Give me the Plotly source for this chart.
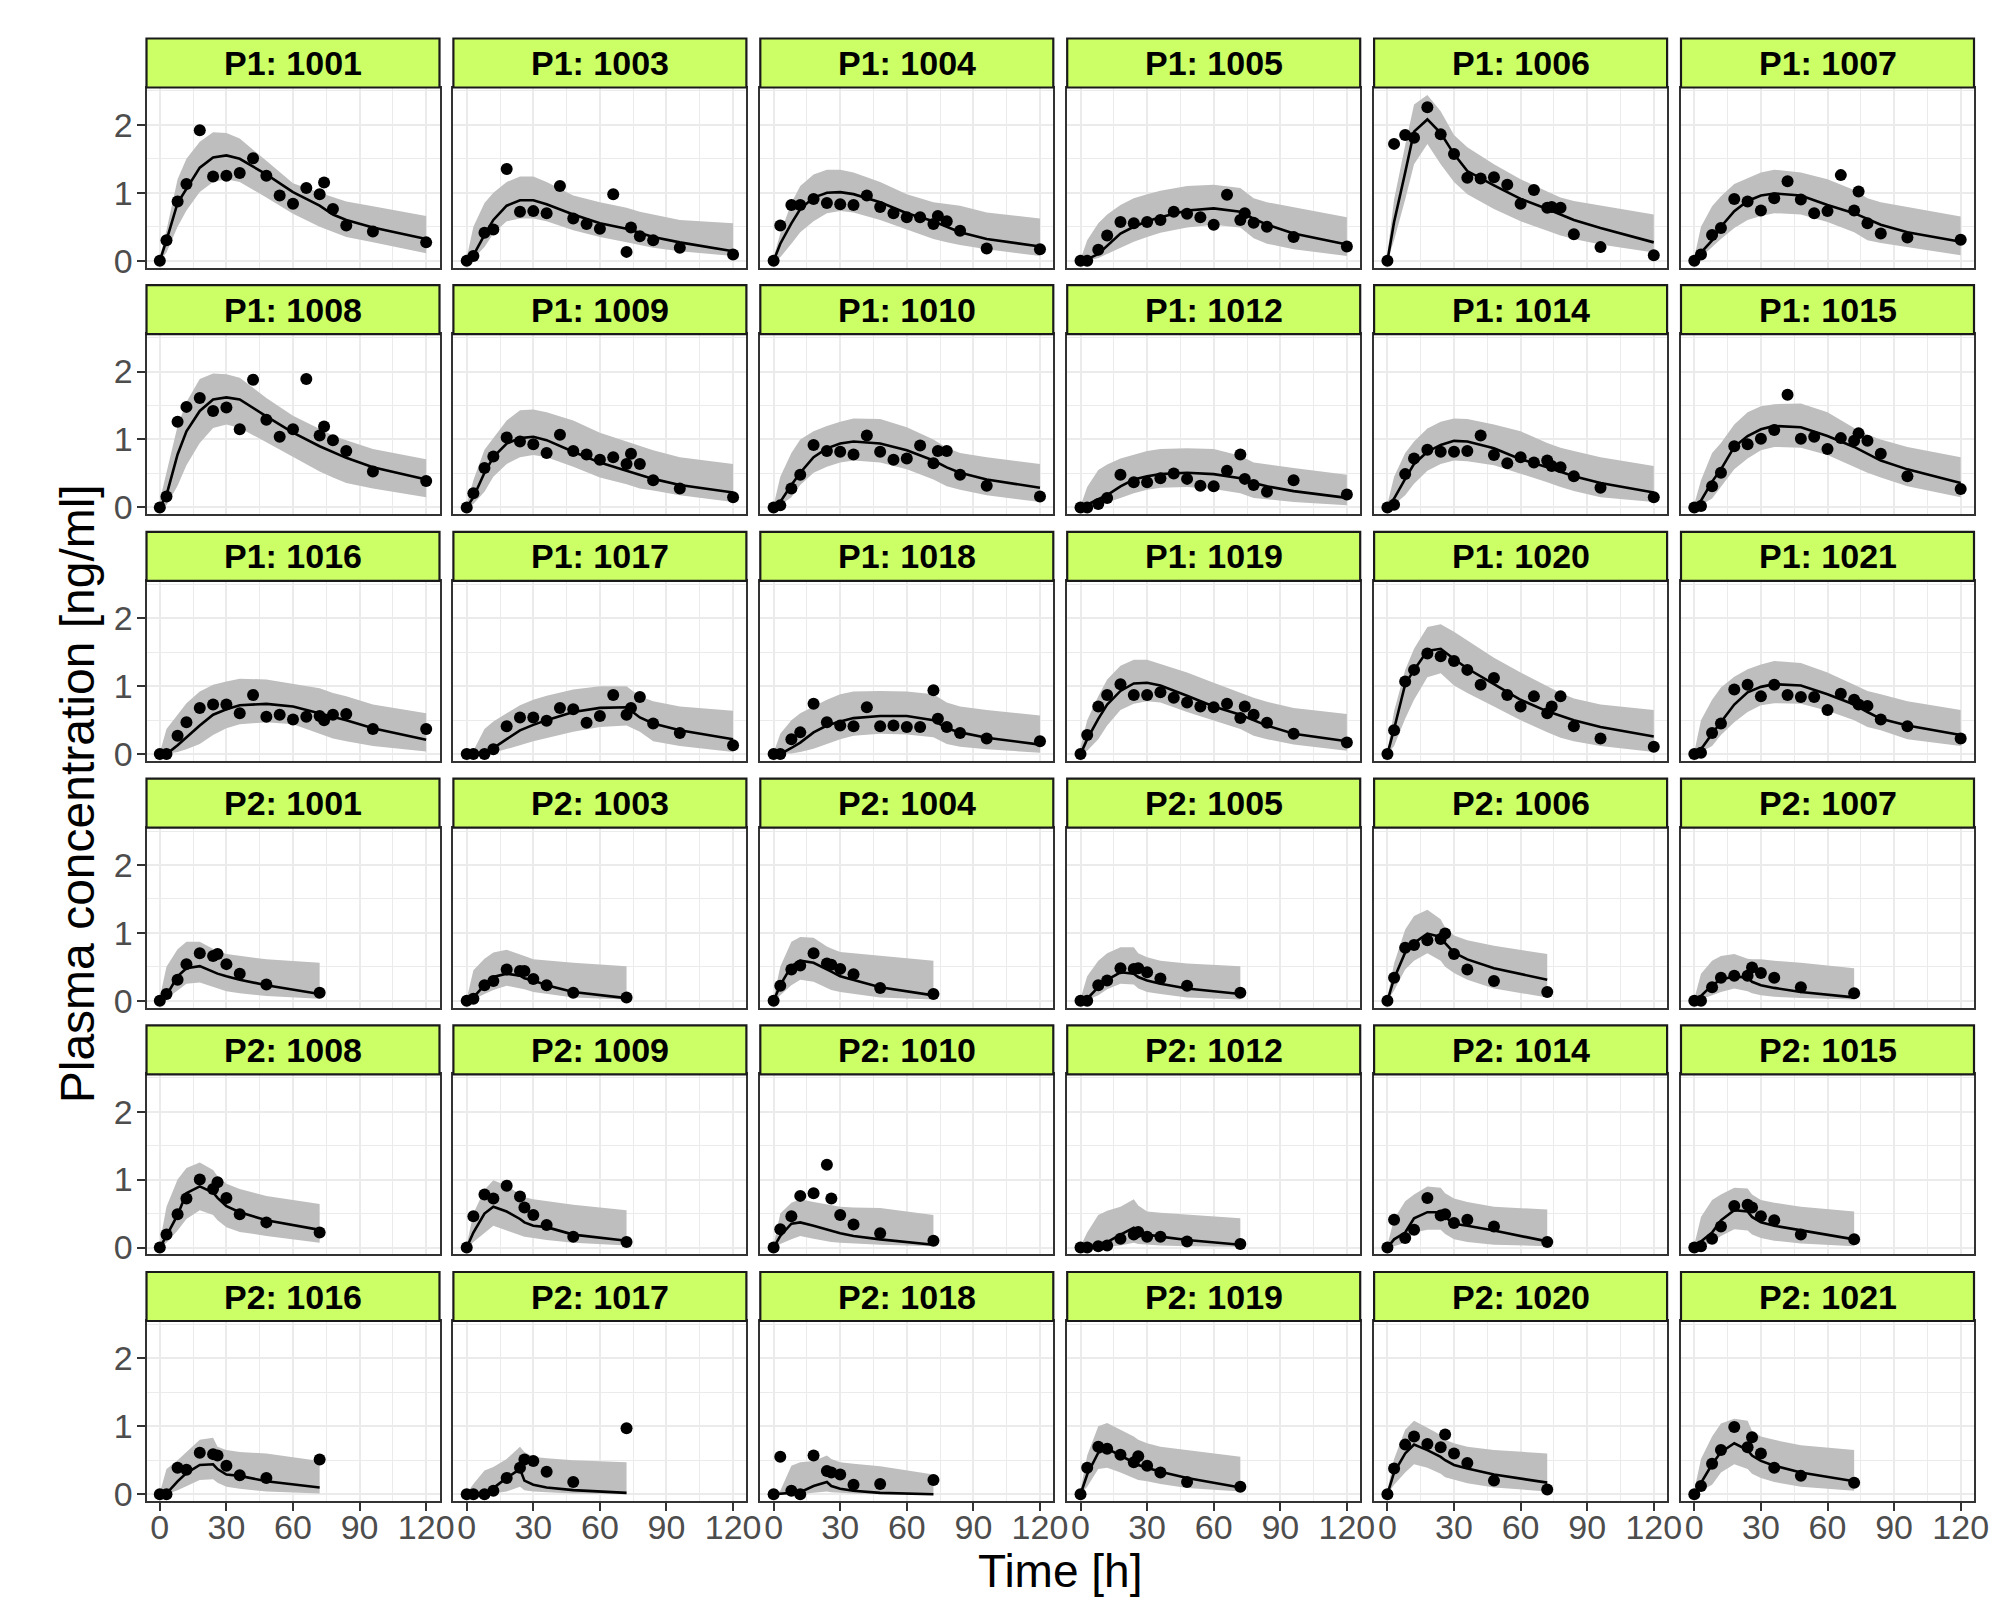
import plotly.graph_objects as go

# ---- sampling / prediction times -------------------------------------------
P1_OBS_TIMES = [0, 3, 8, 12, 18, 24, 30, 36, 42, 48, 54, 60, 66, 72, 74, 78, 84, 96, 120]
P1_PRED_TIMES = [0, 3, 8, 12, 18, 24, 30, 36, 48, 60, 72, 78, 84, 96, 120]
P2_TIMES = [0, 3, 8, 12, 18, 24, 26, 30, 36, 48, 72]

SUBJECTS = [1001, 1003, 1004, 1005, 1006, 1007, 1008, 1009, 1010,
            1012, 1014, 1015, 1016, 1017, 1018, 1019, 1020, 1021]
PERIODS = ["P1", "P2"]

X_TICKS = [0, 30, 60, 90, 120]
Y_TICKS = [0, 1, 2]

# ---- observed concentrations [ng/ml] ---------------------------------------
OBSERVED = {
    "P1: 1001": [0, 0.30, 0.87, 1.13, 1.92, 1.24, 1.25, 1.29, 1.51, 1.25, 0.96, 0.84, 1.07, 0.98, 1.15, 0.76, 0.52, 0.43, 0.27],
    "P1: 1003": [0, 0.07, 0.41, 0.46, 1.35, 0.72, 0.73, 0.70, 1.10, 0.62, 0.54, 0.47, 0.98, 0.13, 0.49, 0.36, 0.30, 0.19, 0.09],
    "P1: 1004": [0, 0.52, 0.82, 0.82, 0.91, 0.85, 0.83, 0.82, 0.96, 0.79, 0.70, 0.64, 0.64, 0.54, 0.66, 0.58, 0.44, 0.18, 0.17],
    "P1: 1005": [0, 0, 0.16, 0.37, 0.57, 0.55, 0.57, 0.60, 0.72, 0.69, 0.64, 0.53, 0.97, 0.60, 0.70, 0.56, 0.50, 0.35, 0.21],
    "P1: 1006": [0, 1.72, 1.85, 1.81, 2.26, 1.86, 1.57, 1.22, 1.21, 1.23, 1.12, 0.84, 1.04, 0.78, 0.79, 0.78, 0.39, 0.20, 0.08],
    "P1: 1007": [0, 0.09, 0.38, 0.48, 0.91, 0.87, 0.74, 0.92, 1.17, 0.90, 0.70, 0.73, 1.26, 0.74, 1.02, 0.55, 0.40, 0.34, 0.31],
    "P1: 1008": [0, 0.16, 1.26, 1.48, 1.61, 1.42, 1.47, 1.15, 1.88, 1.29, 1.04, 1.15, 1.89, 1.06, 1.19, 0.99, 0.83, 0.53, 0.39],
    "P1: 1009": [0, 0.21, 0.58, 0.75, 1.03, 0.97, 0.93, 0.80, 1.07, 0.83, 0.78, 0.70, 0.74, 0.64, 0.79, 0.64, 0.40, 0.28, 0.15],
    "P1: 1010": [0, 0.03, 0.28, 0.48, 0.92, 0.83, 0.82, 0.78, 1.06, 0.82, 0.70, 0.72, 0.91, 0.65, 0.83, 0.83, 0.48, 0.32, 0.16],
    "P1: 1012": [0, 0, 0.05, 0.14, 0.48, 0.37, 0.37, 0.43, 0.50, 0.42, 0.32, 0.31, 0.54, 0.78, 0.42, 0.33, 0.23, 0.40, 0.19],
    "P1: 1014": [0, 0.04, 0.49, 0.72, 0.85, 0.82, 0.82, 0.83, 1.06, 0.77, 0.65, 0.74, 0.66, 0.69, 0.61, 0.59, 0.46, 0.29, 0.15],
    "P1: 1015": [0, 0.02, 0.31, 0.51, 0.90, 0.93, 1.01, 1.14, 1.66, 1.01, 1.04, 0.86, 1.02, 0.98, 1.09, 0.98, 0.79, 0.46, 0.27],
    "P1: 1016": [0, 0, 0.27, 0.47, 0.68, 0.73, 0.73, 0.60, 0.87, 0.55, 0.58, 0.51, 0.55, 0.56, 0.50, 0.58, 0.59, 0.37, 0.37],
    "P1: 1017": [0, 0, 0, 0.07, 0.41, 0.54, 0.54, 0.49, 0.68, 0.66, 0.46, 0.56, 0.87, 0.58, 0.68, 0.84, 0.45, 0.31, 0.13],
    "P1: 1018": [0, 0, 0.22, 0.32, 0.74, 0.47, 0.42, 0.41, 0.69, 0.41, 0.42, 0.40, 0.40, 0.94, 0.52, 0.40, 0.31, 0.23, 0.19],
    "P1: 1019": [0, 0.28, 0.70, 0.87, 1.03, 0.87, 0.87, 0.91, 0.83, 0.76, 0.70, 0.69, 0.74, 0.53, 0.70, 0.58, 0.46, 0.30, 0.17],
    "P1: 1020": [0, 0.35, 1.07, 1.24, 1.48, 1.44, 1.37, 1.24, 1.02, 1.12, 0.87, 0.70, 0.85, 0.60, 0.70, 0.85, 0.41, 0.23, 0.11],
    "P1: 1021": [0, 0.02, 0.31, 0.45, 0.95, 1.02, 0.85, 1.02, 0.87, 0.84, 0.84, 0.65, 0.89, 0.80, 0.73, 0.71, 0.51, 0.41, 0.23],
    "P2: 1001": [0, 0.10, 0.31, 0.54, 0.70, 0.66, 0.69, 0.54, 0.40, 0.24, 0.12],
    "P2: 1003": [0, 0.03, 0.23, 0.29, 0.46, 0.44, 0.44, 0.32, 0.23, 0.12, 0.05],
    "P2: 1004": [0, 0.22, 0.46, 0.52, 0.70, 0.55, 0.53, 0.47, 0.39, 0.19, 0.10],
    "P2: 1005": [0, 0, 0.23, 0.30, 0.48, 0.47, 0.48, 0.42, 0.33, 0.22, 0.12],
    "P2: 1006": [0, 0.34, 0.78, 0.82, 0.89, 0.91, 0.99, 0.69, 0.46, 0.29, 0.13],
    "P2: 1007": [0, 0, 0.20, 0.34, 0.37, 0.37, 0.49, 0.41, 0.34, 0.20, 0.11],
    "P2: 1008": [0, 0.19, 0.49, 0.72, 1.00, 0.86, 0.96, 0.73, 0.49, 0.37, 0.22],
    "P2: 1009": [0, 0.46, 0.78, 0.72, 0.91, 0.75, 0.59, 0.48, 0.33, 0.16, 0.08],
    "P2: 1010": [0, 0.27, 0.46, 0.76, 0.80, 1.22, 0.72, 0.48, 0.34, 0.21, 0.10],
    "P2: 1012": [0, 0, 0.02, 0.03, 0.13, 0.19, 0.23, 0.16, 0.16, 0.09, 0.05],
    "P2: 1014": [0, 0.41, 0.14, 0.26, 0.73, 0.47, 0.49, 0.36, 0.41, 0.31, 0.08],
    "P2: 1015": [0, 0.02, 0.13, 0.31, 0.61, 0.63, 0.59, 0.46, 0.40, 0.19, 0.12],
    "P2: 1016": [0, 0, 0.39, 0.36, 0.61, 0.59, 0.57, 0.42, 0.28, 0.24, 0.51],
    "P2: 1017": [0, 0, 0, 0.05, 0.24, 0.39, 0.51, 0.49, 0.33, 0.18, 0.97],
    "P2: 1018": [0, 0.55, 0.05, 0, 0.57, 0.34, 0.32, 0.29, 0.14, 0.15, 0.21],
    "P2: 1019": [0, 0.39, 0.70, 0.67, 0.58, 0.47, 0.56, 0.42, 0.32, 0.18, 0.11],
    "P2: 1020": [0, 0.38, 0.73, 0.85, 0.74, 0.69, 0.88, 0.60, 0.46, 0.20, 0.07],
    "P2: 1021": [0, 0.12, 0.45, 0.65, 0.99, 0.69, 0.84, 0.60, 0.39, 0.27, 0.17],
}

# ---- model prediction: median ----------------------------------------------
MEDIAN = {
    "P1: 1001": [0, 0.30, 0.85, 1.05, 1.37, 1.52, 1.55, 1.50, 1.27, 1.01, 0.81, 0.68, 0.60, 0.49, 0.32],
    "P1: 1003": [0, 0.08, 0.38, 0.60, 0.81, 0.89, 0.89, 0.83, 0.68, 0.55, 0.47, 0.41, 0.35, 0.27, 0.14],
    "P1: 1004": [0, 0.25, 0.55, 0.76, 0.93, 1.00, 1.01, 0.98, 0.86, 0.70, 0.58, 0.50, 0.42, 0.32, 0.21],
    "P1: 1005": [0, 0.02, 0.10, 0.22, 0.40, 0.50, 0.58, 0.64, 0.74, 0.77, 0.72, 0.62, 0.53, 0.40, 0.24],
    "P1: 1006": [0, 0.57, 1.30, 1.90, 2.08, 1.88, 1.57, 1.32, 1.11, 0.91, 0.76, 0.68, 0.60, 0.48, 0.27],
    "P1: 1007": [0, 0.12, 0.30, 0.50, 0.73, 0.88, 0.96, 0.99, 0.96, 0.82, 0.70, 0.61, 0.53, 0.42, 0.28],
    "P1: 1008": [0, 0.18, 0.78, 1.12, 1.42, 1.59, 1.62, 1.59, 1.34, 1.10, 0.90, 0.81, 0.73, 0.59, 0.41],
    "P1: 1009": [0, 0.15, 0.51, 0.74, 0.94, 1.02, 1.04, 0.99, 0.82, 0.66, 0.54, 0.48, 0.42, 0.33, 0.22],
    "P1: 1010": [0, 0.08, 0.33, 0.51, 0.74, 0.87, 0.94, 0.97, 0.94, 0.84, 0.69, 0.59, 0.51, 0.41, 0.29],
    "P1: 1012": [0, 0.04, 0.12, 0.18, 0.31, 0.41, 0.46, 0.49, 0.51, 0.49, 0.43, 0.36, 0.31, 0.24, 0.14],
    "P1: 1014": [0, 0.13, 0.42, 0.64, 0.82, 0.92, 0.98, 0.97, 0.87, 0.71, 0.59, 0.52, 0.46, 0.36, 0.22],
    "P1: 1015": [0, 0.10, 0.38, 0.56, 0.89, 1.05, 1.15, 1.20, 1.18, 1.05, 0.89, 0.79, 0.69, 0.56, 0.36],
    "P1: 1016": [0, 0, 0.13, 0.25, 0.42, 0.58, 0.66, 0.72, 0.74, 0.70, 0.60, 0.55, 0.50, 0.38, 0.21],
    "P1: 1017": [0, 0, 0.03, 0.09, 0.22, 0.35, 0.43, 0.50, 0.62, 0.68, 0.69, 0.54, 0.45, 0.35, 0.22],
    "P1: 1018": [0, 0, 0.09, 0.17, 0.32, 0.42, 0.48, 0.53, 0.56, 0.56, 0.50, 0.38, 0.32, 0.24, 0.14],
    "P1: 1019": [0, 0.22, 0.52, 0.73, 0.93, 1.04, 1.05, 1.01, 0.86, 0.70, 0.58, 0.50, 0.42, 0.30, 0.19],
    "P1: 1020": [0, 0.37, 1.03, 1.24, 1.52, 1.55, 1.40, 1.26, 1.03, 0.80, 0.63, 0.56, 0.50, 0.40, 0.26],
    "P1: 1021": [0, 0.07, 0.30, 0.47, 0.73, 0.91, 0.99, 1.03, 1.01, 0.88, 0.73, 0.62, 0.52, 0.42, 0.28],
    "P2: 1001": [0, 0.08, 0.36, 0.48, 0.51, 0.43, 0.40, 0.36, 0.31, 0.23, 0.10],
    "P2: 1003": [0, 0.05, 0.23, 0.35, 0.40, 0.37, 0.33, 0.30, 0.23, 0.13, 0.04],
    "P2: 1004": [0, 0.23, 0.51, 0.59, 0.56, 0.47, 0.43, 0.36, 0.31, 0.20, 0.08],
    "P2: 1005": [0, 0.03, 0.20, 0.31, 0.42, 0.40, 0.35, 0.30, 0.25, 0.18, 0.10],
    "P2: 1006": [0, 0.33, 0.71, 0.85, 0.99, 0.94, 0.85, 0.71, 0.61, 0.48, 0.31],
    "P2: 1007": [0, 0.07, 0.23, 0.31, 0.36, 0.34, 0.28, 0.23, 0.19, 0.13, 0.05],
    "P2: 1008": [0, 0.17, 0.48, 0.80, 0.90, 0.81, 0.73, 0.61, 0.52, 0.40, 0.26],
    "P2: 1009": [0, 0.22, 0.50, 0.60, 0.53, 0.42, 0.37, 0.32, 0.30, 0.19, 0.10],
    "P2: 1010": [0, 0.17, 0.35, 0.37, 0.32, 0.26, 0.24, 0.21, 0.17, 0.12, 0.04],
    "P2: 1012": [0, 0.01, 0.04, 0.08, 0.19, 0.29, 0.25, 0.19, 0.16, 0.11, 0.04],
    "P2: 1014": [0, 0.12, 0.22, 0.43, 0.52, 0.52, 0.45, 0.35, 0.32, 0.25, 0.09],
    "P2: 1015": [0, 0.09, 0.22, 0.40, 0.55, 0.53, 0.45, 0.37, 0.32, 0.25, 0.12],
    "P2: 1016": [0, 0.01, 0.19, 0.31, 0.43, 0.44, 0.37, 0.29, 0.27, 0.19, 0.10],
    "P2: 1017": [0, 0, 0.01, 0.09, 0.24, 0.37, 0.20, 0.14, 0.10, 0.06, 0.02],
    "P2: 1018": [0, 0.01, 0.02, 0.03, 0.12, 0.18, 0.12, 0.08, 0.05, 0.02, 0],
    "P2: 1019": [0, 0.29, 0.61, 0.67, 0.57, 0.47, 0.43, 0.39, 0.33, 0.24, 0.10],
    "P2: 1020": [0, 0.32, 0.60, 0.73, 0.65, 0.55, 0.50, 0.43, 0.38, 0.29, 0.17],
    "P2: 1021": [0, 0.16, 0.44, 0.62, 0.75, 0.65, 0.57, 0.49, 0.42, 0.32, 0.19],
}

# ---- model prediction: lower bound of the interval -------------------------
LOWER = {
    "P1: 1001": [0, 0.12, 0.50, 0.74, 1.01, 1.16, 1.20, 1.16, 0.93, 0.69, 0.50, 0.42, 0.35, 0.27, 0.11],
    "P1: 1003": [0, 0.03, 0.20, 0.40, 0.58, 0.62, 0.62, 0.58, 0.45, 0.35, 0.27, 0.23, 0.19, 0.14, 0.07],
    "P1: 1004": [0, 0.05, 0.25, 0.42, 0.58, 0.70, 0.73, 0.71, 0.60, 0.46, 0.32, 0.27, 0.23, 0.17, 0.07],
    "P1: 1005": [0, 0, 0.04, 0.10, 0.20, 0.28, 0.35, 0.41, 0.49, 0.53, 0.49, 0.33, 0.25, 0.17, 0.07],
    "P1: 1006": [0, 0.30, 0.90, 1.42, 1.72, 1.42, 1.16, 0.98, 0.76, 0.58, 0.44, 0.37, 0.32, 0.24, 0.12],
    "P1: 1007": [0, 0.05, 0.20, 0.32, 0.48, 0.60, 0.66, 0.70, 0.68, 0.57, 0.42, 0.30, 0.26, 0.20, 0.08],
    "P1: 1008": [0, 0.03, 0.32, 0.62, 0.95, 1.17, 1.22, 1.17, 0.96, 0.74, 0.53, 0.44, 0.36, 0.28, 0.15],
    "P1: 1009": [0, 0.05, 0.23, 0.45, 0.64, 0.74, 0.77, 0.74, 0.60, 0.44, 0.34, 0.28, 0.25, 0.18, 0.08],
    "P1: 1010": [0, 0.03, 0.15, 0.33, 0.51, 0.60, 0.66, 0.69, 0.66, 0.56, 0.41, 0.31, 0.26, 0.18, 0.08],
    "P1: 1012": [0, 0, 0.03, 0.07, 0.14, 0.21, 0.26, 0.29, 0.30, 0.27, 0.21, 0.14, 0.12, 0.08, 0.03],
    "P1: 1014": [0, 0.04, 0.18, 0.35, 0.54, 0.64, 0.69, 0.68, 0.62, 0.50, 0.37, 0.30, 0.24, 0.15, 0.08],
    "P1: 1015": [0, 0.03, 0.13, 0.30, 0.56, 0.72, 0.84, 0.89, 0.88, 0.77, 0.60, 0.51, 0.44, 0.31, 0.15],
    "P1: 1016": [0, 0, 0.03, 0.07, 0.15, 0.28, 0.38, 0.44, 0.47, 0.44, 0.30, 0.23, 0.19, 0.12, 0.04],
    "P1: 1017": [0, 0, 0, 0.02, 0.07, 0.13, 0.19, 0.24, 0.33, 0.40, 0.42, 0.33, 0.19, 0.12, 0.03],
    "P1: 1018": [0, 0, 0.01, 0.03, 0.08, 0.15, 0.22, 0.27, 0.30, 0.29, 0.25, 0.15, 0.11, 0.07, 0.02],
    "P1: 1019": [0, 0.05, 0.22, 0.42, 0.65, 0.74, 0.78, 0.76, 0.62, 0.49, 0.37, 0.27, 0.22, 0.14, 0.05],
    "P1: 1020": [0, 0.12, 0.52, 0.80, 1.13, 1.19, 1.01, 0.90, 0.70, 0.50, 0.32, 0.24, 0.19, 0.12, 0.03],
    "P1: 1021": [0, 0.03, 0.12, 0.28, 0.47, 0.62, 0.72, 0.75, 0.74, 0.64, 0.50, 0.40, 0.35, 0.22, 0.12],
    "P2: 1001": [0, 0.03, 0.15, 0.25, 0.27, 0.21, 0.18, 0.14, 0.11, 0.07, 0.03],
    "P2: 1003": [0, 0.02, 0.10, 0.16, 0.22, 0.19, 0.17, 0.13, 0.10, 0.05, 0.02],
    "P2: 1004": [0, 0.08, 0.23, 0.31, 0.28, 0.19, 0.16, 0.13, 0.10, 0.05, 0.02],
    "P2: 1005": [0, 0.01, 0.08, 0.17, 0.25, 0.24, 0.18, 0.13, 0.10, 0.05, 0.02],
    "P2: 1006": [0, 0.15, 0.46, 0.59, 0.70, 0.59, 0.50, 0.41, 0.31, 0.18, 0.05],
    "P2: 1007": [0, 0.02, 0.08, 0.13, 0.18, 0.14, 0.11, 0.08, 0.06, 0.04, 0.02],
    "P2: 1008": [0, 0.07, 0.25, 0.42, 0.55, 0.48, 0.40, 0.30, 0.23, 0.17, 0.07],
    "P2: 1009": [0, 0.08, 0.22, 0.32, 0.25, 0.18, 0.16, 0.14, 0.11, 0.07, 0.03],
    "P2: 1010": [0, 0.05, 0.12, 0.17, 0.13, 0.09, 0.08, 0.07, 0.06, 0.04, 0.02],
    "P2: 1012": [0, 0, 0, 0.01, 0.03, 0.07, 0.05, 0.04, 0.03, 0.02, 0.01],
    "P2: 1014": [0, 0.02, 0.07, 0.22, 0.26, 0.26, 0.20, 0.12, 0.08, 0.04, 0.02],
    "P2: 1015": [0, 0.02, 0.07, 0.17, 0.27, 0.25, 0.19, 0.14, 0.10, 0.06, 0.02],
    "P2: 1016": [0, 0, 0.06, 0.12, 0.21, 0.22, 0.17, 0.11, 0.08, 0.04, 0.01],
    "P2: 1017": [0, 0, 0, 0.01, 0.04, 0.11, 0.06, 0.04, 0.03, 0.01, 0],
    "P2: 1018": [0, 0, 0, 0, 0.02, 0.04, 0.03, 0.02, 0.01, 0, 0],
    "P2: 1019": [0, 0.11, 0.37, 0.39, 0.32, 0.24, 0.21, 0.19, 0.15, 0.09, 0.04],
    "P2: 1020": [0, 0.14, 0.32, 0.44, 0.39, 0.30, 0.25, 0.21, 0.16, 0.10, 0.04],
    "P2: 1021": [0, 0.05, 0.14, 0.32, 0.44, 0.37, 0.30, 0.24, 0.18, 0.11, 0.05],
}

# ---- model prediction: upper bound of the interval -------------------------
UPPER = {
    "P1: 1001": [0.05, 0.45, 1.20, 1.50, 1.75, 1.89, 1.88, 1.80, 1.47, 1.14, 1.00, 0.93, 0.87, 0.80, 0.66],
    "P1: 1003": [0.05, 0.50, 0.85, 1.00, 1.16, 1.24, 1.24, 1.16, 0.96, 0.86, 0.78, 0.72, 0.68, 0.60, 0.55],
    "P1: 1004": [0.05, 0.40, 0.85, 1.10, 1.27, 1.34, 1.34, 1.30, 1.16, 0.98, 0.86, 0.83, 0.81, 0.71, 0.62],
    "P1: 1005": [0.02, 0.30, 0.55, 0.68, 0.82, 0.92, 0.98, 1.03, 1.10, 1.12, 1.07, 0.92, 0.86, 0.79, 0.64],
    "P1: 1006": [0.10, 0.90, 1.70, 2.30, 2.44, 2.20, 1.85, 1.67, 1.42, 1.20, 1.02, 0.93, 0.88, 0.81, 0.68],
    "P1: 1007": [0.05, 0.50, 0.80, 0.95, 1.13, 1.22, 1.30, 1.34, 1.30, 1.20, 1.04, 0.92, 0.86, 0.79, 0.65],
    "P1: 1008": [0.10, 0.50, 1.20, 1.55, 1.89, 1.97, 1.96, 1.91, 1.61, 1.35, 1.15, 1.06, 0.99, 0.86, 0.71],
    "P1: 1009": [0.05, 0.40, 0.85, 1.02, 1.28, 1.43, 1.44, 1.40, 1.28, 1.10, 0.97, 0.90, 0.84, 0.74, 0.64],
    "P1: 1010": [0.03, 0.45, 0.80, 1.00, 1.12, 1.20, 1.26, 1.31, 1.30, 1.18, 1.00, 0.88, 0.80, 0.74, 0.64],
    "P1: 1012": [0.02, 0.30, 0.55, 0.63, 0.72, 0.78, 0.83, 0.86, 0.87, 0.86, 0.76, 0.66, 0.63, 0.58, 0.48],
    "P1: 1014": [0.05, 0.45, 0.80, 0.97, 1.16, 1.26, 1.31, 1.30, 1.22, 1.12, 0.95, 0.88, 0.83, 0.74, 0.61],
    "P1: 1015": [0.05, 0.40, 0.80, 0.95, 1.22, 1.40, 1.49, 1.52, 1.53, 1.40, 1.17, 1.07, 1.00, 0.89, 0.74],
    "P1: 1016": [0.02, 0.37, 0.58, 0.75, 0.92, 1.02, 1.07, 1.11, 1.10, 1.03, 0.97, 0.90, 0.85, 0.73, 0.60],
    "P1: 1017": [0.02, 0.05, 0.37, 0.48, 0.60, 0.72, 0.80, 0.86, 0.95, 1.00, 1.00, 0.85, 0.78, 0.70, 0.64],
    "P1: 1018": [0.02, 0.30, 0.50, 0.60, 0.70, 0.80, 0.88, 0.92, 0.93, 0.92, 0.88, 0.76, 0.70, 0.65, 0.57],
    "P1: 1019": [0.10, 0.50, 0.85, 1.10, 1.30, 1.39, 1.39, 1.33, 1.20, 1.05, 0.90, 0.83, 0.77, 0.68, 0.59],
    "P1: 1020": [0.05, 0.63, 1.24, 1.55, 1.87, 1.91, 1.80, 1.67, 1.42, 1.20, 1.00, 0.90, 0.82, 0.73, 0.65],
    "P1: 1021": [0.03, 0.50, 0.80, 0.98, 1.14, 1.25, 1.32, 1.37, 1.34, 1.20, 1.02, 0.93, 0.88, 0.78, 0.65],
    "P2: 1001": [0.05, 0.50, 0.76, 0.87, 0.87, 0.76, 0.73, 0.69, 0.66, 0.61, 0.56],
    "P2: 1003": [0.03, 0.45, 0.62, 0.71, 0.75, 0.69, 0.66, 0.61, 0.59, 0.56, 0.51],
    "P2: 1004": [0.05, 0.50, 0.87, 0.94, 0.93, 0.80, 0.77, 0.72, 0.70, 0.66, 0.59],
    "P2: 1005": [0.03, 0.36, 0.59, 0.70, 0.79, 0.79, 0.70, 0.64, 0.59, 0.55, 0.51],
    "P2: 1006": [0.05, 0.55, 1.05, 1.25, 1.34, 1.20, 1.08, 0.96, 0.89, 0.81, 0.69],
    "P2: 1007": [0.03, 0.40, 0.59, 0.66, 0.69, 0.62, 0.61, 0.61, 0.59, 0.56, 0.48],
    "P2: 1008": [0.07, 0.60, 1.00, 1.17, 1.25, 1.14, 1.05, 0.94, 0.86, 0.76, 0.64],
    "P2: 1009": [0.04, 0.50, 0.85, 0.99, 0.91, 0.78, 0.74, 0.71, 0.68, 0.63, 0.55],
    "P2: 1010": [0.04, 0.50, 0.66, 0.71, 0.67, 0.63, 0.62, 0.60, 0.59, 0.58, 0.48],
    "P2: 1012": [0.02, 0.22, 0.48, 0.54, 0.60, 0.71, 0.62, 0.53, 0.51, 0.48, 0.43],
    "P2: 1014": [0.04, 0.42, 0.68, 0.78, 0.90, 0.88, 0.80, 0.72, 0.67, 0.60, 0.56],
    "P2: 1015": [0.04, 0.45, 0.70, 0.78, 0.88, 0.87, 0.78, 0.70, 0.66, 0.60, 0.53],
    "P2: 1016": [0.02, 0.37, 0.50, 0.62, 0.80, 0.83, 0.70, 0.65, 0.62, 0.60, 0.49],
    "P2: 1017": [0.01, 0.15, 0.35, 0.40, 0.52, 0.70, 0.62, 0.55, 0.53, 0.50, 0.47],
    "P2: 1018": [0, 0.05, 0.42, 0.47, 0.49, 0.57, 0.52, 0.47, 0.45, 0.41, 0.29],
    "P2: 1019": [0.06, 0.57, 1.00, 1.05, 0.95, 0.85, 0.80, 0.75, 0.70, 0.65, 0.55],
    "P2: 1020": [0.06, 0.52, 0.95, 1.08, 0.98, 0.87, 0.80, 0.75, 0.70, 0.65, 0.60],
    "P2: 1021": [0.06, 0.52, 0.85, 1.04, 1.11, 1.08, 0.93, 0.85, 0.80, 0.72, 0.65],
}

# ---- page geometry (pixels) -------------------------------------------------
W, H = 2015, 1599
N_COLS, N_ROWS = 6, 6
PANEL_LEFT0, COL_PITCH, PANEL_W = 146.5, 306.9, 293.0
PANEL_TOP0, ROW_PITCH, PANEL_H = 87.5, 246.7, 180.0
STRIP_H = 49.0

X_RANGE = [-6, 126]
Y_RANGE = [-0.10, 2.55]

FONT = "Liberation Sans, Arial, Helvetica, sans-serif"
GRID = "#EBEBEB"
BORDER = "#333333"
STRIP_FILL = "#CCFF66"
BAND_FILL = "#BEBEBE"
TICK_SIZE = 34

panels = [f"{p}: {s}" for p in PERIODS for s in SUBJECTS]

fig = go.Figure()
shapes, annotations = [], []

for k, name in enumerate(panels):
    r, c = divmod(k, N_COLS)
    suffix = "" if k == 0 else str(k + 1)
    xref, yref = "x" + suffix, "y" + suffix

    if name.startswith("P1"):
        obs_t, pred_t = P1_OBS_TIMES, P1_PRED_TIMES
    else:
        obs_t, pred_t = P2_TIMES, P2_TIMES

    # prediction interval
    fig.add_trace(go.Scatter(x=pred_t, y=LOWER[name], mode="lines",
                             line=dict(width=0, color=BAND_FILL),
                             xaxis=xref, yaxis=yref, showlegend=False,
                             hoverinfo="skip"))
    fig.add_trace(go.Scatter(x=pred_t, y=UPPER[name], mode="lines",
                             line=dict(width=0, color=BAND_FILL),
                             fill="tonexty", fillcolor=BAND_FILL,
                             xaxis=xref, yaxis=yref, showlegend=False,
                             hoverinfo="skip"))
    # median prediction
    fig.add_trace(go.Scatter(x=pred_t, y=MEDIAN[name], mode="lines",
                             line=dict(width=2.6, color="black"),
                             xaxis=xref, yaxis=yref, showlegend=False))
    # observations
    fig.add_trace(go.Scatter(x=obs_t, y=OBSERVED[name], mode="markers",
                             marker=dict(size=12, color="black"),
                             xaxis=xref, yaxis=yref, showlegend=False))

    left = PANEL_LEFT0 + c * COL_PITCH
    right = left + PANEL_W
    top = PANEL_TOP0 + r * ROW_PITCH
    bottom = top + PANEL_H

    bottom_row = r == N_ROWS - 1
    first_col = c == 0

    fig.layout["xaxis" + suffix] = dict(
        domain=[left / W, right / W], anchor=yref, range=X_RANGE,
        automargin=False,
        tickmode="array", tickvals=X_TICKS, ticktext=[str(v) for v in X_TICKS],
        showticklabels=bottom_row, ticks="outside" if bottom_row else "",
        ticklen=8, tickwidth=2, tickcolor=BORDER, ticklabelstandoff=-13,
        tickfont=dict(family=FONT, size=TICK_SIZE, color="#4D4D4D"),
        showgrid=True, gridcolor=GRID, gridwidth=2.2, zeroline=False,
        minor=dict(tickmode="array", tickvals=[15, 45, 75, 105],
                   showgrid=True, gridcolor=GRID, gridwidth=1.1, ticks=""),
        showline=True, mirror=True, linecolor=BORDER, linewidth=2,
        fixedrange=True,
    )
    fig.layout["yaxis" + suffix] = dict(
        domain=[1 - bottom / H, 1 - top / H], anchor=xref, range=Y_RANGE,
        automargin=False,
        tickmode="array", tickvals=Y_TICKS, ticktext=[str(v) for v in Y_TICKS],
        showticklabels=first_col, ticks="outside" if first_col else "",
        ticklen=8, tickwidth=2, tickcolor=BORDER, ticklabelstandoff=-3,
        tickfont=dict(family=FONT, size=TICK_SIZE, color="#4D4D4D"),
        showgrid=True, gridcolor=GRID, gridwidth=2.2, zeroline=False,
        minor=dict(tickmode="array", tickvals=[0.5, 1.5, 2.5],
                   showgrid=True, gridcolor=GRID, gridwidth=1.1, ticks=""),
        showline=True, mirror=True, linecolor=BORDER, linewidth=2,
        fixedrange=True,
    )

    # facet strip
    shapes.append(dict(type="rect", xref="paper", yref="paper",
                       x0=left / W, x1=right / W,
                       y0=1 - top / H, y1=1 - (top - STRIP_H) / H,
                       fillcolor=STRIP_FILL, line=dict(color="#1A1A1A", width=2.2),
                       layer="above"))
    annotations.append(dict(text=f"<b>{name}</b>", xref="paper", yref="paper",
                            x=(left + right) / 2 / W,
                            y=1 - (top - STRIP_H / 2) / H,
                            xanchor="center", yanchor="middle", showarrow=False,
                            font=dict(family=FONT, size=34, color="black")))

# axis titles
annotations.append(dict(text="Time [h]", xref="paper", yref="paper",
                        x=(PANEL_LEFT0 + 5 * COL_PITCH + PANEL_W + PANEL_LEFT0) / 2 / W,
                        y=1 - 1571 / H, xanchor="center", yanchor="middle",
                        showarrow=False,
                        font=dict(family=FONT, size=46, color="black")))
annotations.append(dict(text="Plasma concentration [ng/ml]", xref="paper", yref="paper",
                        x=77 / W,
                        y=1 - (PANEL_TOP0 + (PANEL_TOP0 + 5 * ROW_PITCH + PANEL_H)) / 2 / H,
                        xanchor="center", yanchor="middle", textangle=-90,
                        showarrow=False,
                        font=dict(family=FONT, size=48, color="black")))

fig.update_layout(
    width=W, height=H,
    margin=dict(l=0, r=0, t=0, b=0, autoexpand=False),
    paper_bgcolor="white", plot_bgcolor="white",
    showlegend=False,
    shapes=shapes, annotations=annotations,
)

fig.write_html("out.html", config={"displayModeBar": False})
